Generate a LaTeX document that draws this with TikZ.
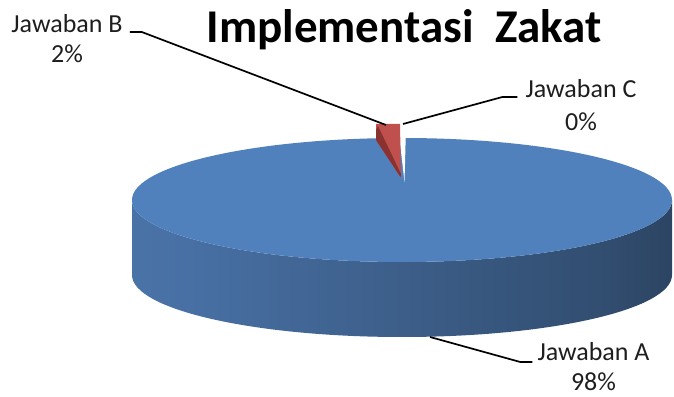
\documentclass[tikz,border=0pt]{standalone}
\usepackage{fontspec}
\setmainfont{Carlito}
\definecolor{topblue}{RGB}{80,129,189}
\definecolor{wallA}{RGB}{79,126,185}
\definecolor{wallB}{RGB}{72,112,164}
\definecolor{wallC}{RGB}{50,78,113}
\definecolor{wallD}{RGB}{34,51,74}
\definecolor{sliceRed}{RGB}{192,80,77}
\definecolor{sliceDark}{RGB}{138,50,48}
\definecolor{labelgray}{RGB}{30,30,30}
\pgfdeclarehorizontalshading{pieWall}{100bp}{%
  color(0bp)=(wallA); color(30bp)=(wallB); color(68bp)=(wallC); color(88bp)=(wallD); color(100bp)=(wallD)}
\tikzset{
  lbl/.style={font=\fontsize{26}{30}\selectfont, text=labelgray, inner sep=0pt, anchor=base},
  ttl/.style={font=\fontsize{47}{50}\selectfont\bfseries, text=black, inner sep=0pt, anchor=base},
  leader/.style={draw=black, line width=1.7pt},
}
\begin{document}
\begin{tikzpicture}[x=1pt,y=1pt]
  \useasboundingbox (0,0) rectangle (674,396);

  % side wall of the pie (front half, between top and bottom rims)
  \shade[shading=pieWall]
    (132,196) arc[start angle=180, end angle=360, x radius=270, y radius=62]
    -- (672,121) arc[start angle=0, end angle=-180, x radius=270, y radius=62]
    -- cycle;

  % top face of slice A
  \fill[topblue] (402,196) ellipse[x radius=270, y radius=62];

  % notch left open by the pulled-out slice
  \fill[white] (399,262) -- (404.5,214) -- (405.8,262) -- cycle;

  % slice B, pulled out of the pie
  \fill[sliceRed] (376,272) -- (400,272) -- (401,218) -- (376,256) -- cycle;
  \fill[sliceDark] (378,270) -- (401,222) -- (400.5,219) -- (376,256) -- (376,266) -- cycle;

  % anchor points of the leader lines on the slices
  \coordinate (tipA) at (430,59);
  \coordinate (tipB) at (386,271);
  \coordinate (tipC) at (403,272);

  % title
  \node[ttl] (title) at (404,353) {Implementasi\ \ Zakat};

  % labels
  \node[lbl] (nB) at (67,363) {Jawaban B};
  \node[lbl] (pB) at (67,333) {2\%};
  \node[lbl] (nC) at (581,298) {Jawaban C};
  \node[lbl] (pC) at (581,265) {0\%};
  \node[lbl] (nA) at (593.5,35) {Jawaban A};
  \node[lbl] (pA) at (593.5,6) {98\%};

  % leader lines
  \draw[leader] ([xshift=7pt,yshift=1pt]nB.base east) -- ++(12,0) -- (tipB);
  \draw[leader] ([xshift=-8pt,yshift=1pt]nC.base west) -- ++(-15,0) -- (tipC);
  \draw[leader] ([xshift=-5pt,yshift=-1pt]nA.base west) -- ++(-12,0) -- (tipA);
\end{tikzpicture}
\end{document}
